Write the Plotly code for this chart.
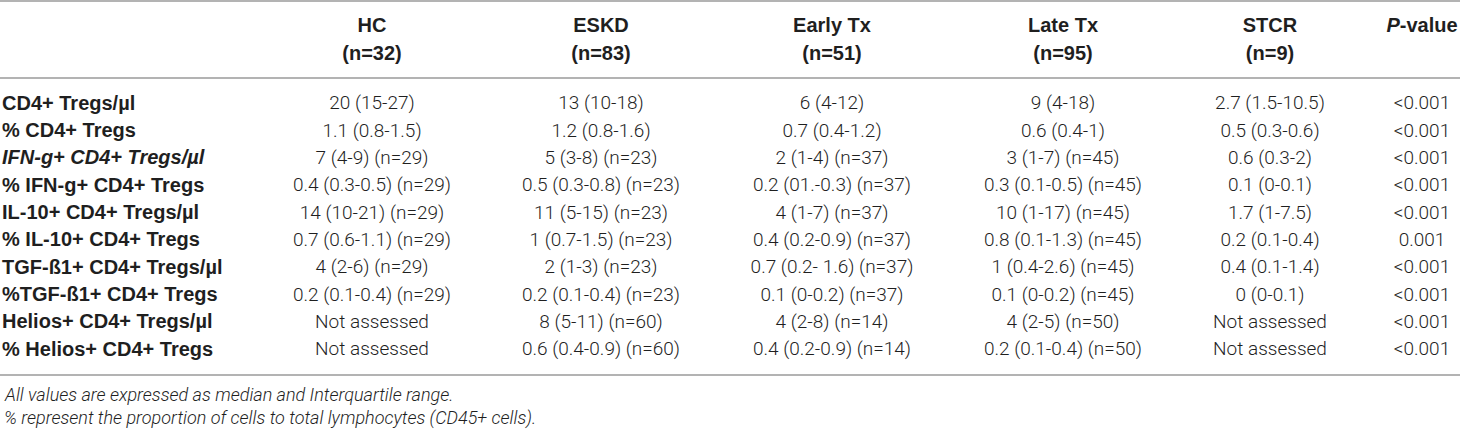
import plotly.graph_objects as go

W, H = 1460, 431

groups = ["HC", "ESKD", "Early Tx", "Late Tx", "STCR"]
group_n = ["(n=32)", "(n=83)", "(n=51)", "(n=95)", "(n=9)"]
p_header = "<i>P</i>-value"

labels = ["CD4+ Tregs/µl", "% CD4+ Tregs", "IFN-g+ CD4+ Tregs/µl", "% IFN-g+ CD4+ Tregs",
          "IL-10+ CD4+ Tregs/µl", "% IL-10+ CD4+ Tregs", "TGF-ß1+ CD4+ Tregs/µl",
          "%TGF-ß1+ CD4+ Tregs", "Helios+ CD4+ Tregs/µl", "% Helios+ CD4+ Tregs"]
italic_rows = [2]

hc = ["20 (15-27)", "1.1 (0.8-1.5)", "7 (4-9) (n=29)", "0.4 (0.3-0.5) (n=29)", "14 (10-21) (n=29)",
      "0.7 (0.6-1.1) (n=29)", "4 (2-6) (n=29)", "0.2 (0.1-0.4) (n=29)", "Not assessed", "Not assessed"]
eskd = ["13 (10-18)", "1.2 (0.8-1.6)", "5 (3-8) (n=23)", "0.5 (0.3-0.8) (n=23)", "11 (5-15) (n=23)",
        "1 (0.7-1.5) (n=23)", "2 (1-3) (n=23)", "0.2 (0.1-0.4) (n=23)", "8 (5-11) (n=60)", "0.6 (0.4-0.9) (n=60)"]
early = ["6 (4-12)", "0.7 (0.4-1.2)", "2 (1-4) (n=37)", "0.2 (01.-0.3) (n=37)", "4 (1-7) (n=37)",
         "0.4 (0.2-0.9) (n=37)", "0.7 (0.2- 1.6) (n=37)", "0.1 (0-0.2) (n=37)", "4 (2-8) (n=14)", "0.4 (0.2-0.9) (n=14)"]
late = ["9 (4-18)", "0.6 (0.4-1)", "3 (1-7) (n=45)", "0.3 (0.1-0.5) (n=45)", "10 (1-17) (n=45)",
        "0.8 (0.1-1.3) (n=45)", "1 (0.4-2.6) (n=45)", "0.1 (0-0.2) (n=45)", "4 (2-5) (n=50)", "0.2 (0.1-0.4) (n=50)"]
stcr = ["2.7 (1.5-10.5)", "0.5 (0.3-0.6)", "0.6 (0.3-2)", "0.1 (0-0.1)", "1.7 (1-7.5)",
        "0.2 (0.1-0.4)", "0.4 (0.1-1.4)", "0 (0-0.1)", "Not assessed", "Not assessed"]
pvals = ["<0.001", "<0.001", "<0.001", "<0.001", "<0.001", "0.001", "<0.001", "<0.001", "<0.001", "<0.001"]

footnotes = ["All values are expressed as median and Interquartile range.",
             "% represent the proportion of cells to total lymphocytes (CD45+ cells)."]

# ---- layout geometry (pixels) ----
col_centers = [372, 601, 832, 1063, 1270, 1422]   # HC, ESKD, Early, Late, STCR, P
label_x = 2
first_row_px = 104.5
row_pitch = 27.35
header_px = [27, 55]
rules_px = [1, 78, 375]
foot_px = [394, 418]
rule_color = "#9a9a9a"
text_color = "#1f1f1f"


def to_row(px):
    return (px - first_row_px) / row_pitch


def esc(s):
    return s.replace("<", "&lt;").replace(">", "&gt;")


rows = list(range(len(labels)))
fig = go.Figure()

label_txt = []
for i, lab in enumerate(labels):
    t = esc(lab)
    if i in italic_rows:
        t = "<i>" + t + "</i>"
    label_txt.append("<b>" + t + "</b>")

fig.add_trace(go.Scatter(x=[label_x] * len(rows), y=rows, mode="text", text=label_txt,
                         textposition="middle right", hoverinfo="skip", showlegend=False,
                         textfont=dict(family="Liberation Sans", size=20, color=text_color)))

for cx, col in zip(col_centers, (hc, eskd, early, late, stcr, pvals)):
    fig.add_trace(go.Scatter(x=[cx] * len(rows), y=rows, mode="text", text=[esc(v) for v in col],
                             textposition="middle center", hoverinfo="skip", showlegend=False,
                             textfont=dict(family="Roboto", size=19, color=text_color, weight=300)))

# header
fig.add_trace(go.Scatter(x=col_centers[:5], y=[to_row(header_px[0])] * 5, mode="text",
                         text=["<b>%s</b>" % g for g in groups], textposition="middle center",
                         hoverinfo="skip", showlegend=False,
                         textfont=dict(family="Liberation Sans", size=20, color=text_color)))
fig.add_trace(go.Scatter(x=col_centers[:5], y=[to_row(header_px[1])] * 5, mode="text",
                         text=["<b>%s</b>" % n for n in group_n], textposition="middle center",
                         hoverinfo="skip", showlegend=False,
                         textfont=dict(family="Liberation Sans", size=20, color=text_color)))
fig.add_trace(go.Scatter(x=[col_centers[5]], y=[to_row(header_px[0])], mode="text",
                         text=["<b>%s</b>" % p_header], textposition="middle center",
                         hoverinfo="skip", showlegend=False,
                         textfont=dict(family="Liberation Sans", size=20, color=text_color)))

for yp in rules_px:
    fig.add_shape(type="line", xref="paper", yref="y", x0=0, x1=1,
                  y0=to_row(yp), y1=to_row(yp), line=dict(color=rule_color, width=1.6))

for k, txt in enumerate(footnotes):
    fig.add_annotation(xref="x", yref="y", x=label_x, y=to_row(foot_px[k]),
                       xanchor="left", yanchor="middle", showarrow=False,
                       text="<i>" + esc(txt) + "</i>",
                       font=dict(family="Roboto", size=18, color=text_color, weight=300))

fig.update_xaxes(range=[0, W], visible=False, fixedrange=True)
fig.update_yaxes(range=[to_row(H), to_row(0)], visible=False, fixedrange=True)
fig.update_layout(width=W, height=H, margin=dict(l=0, r=0, t=0, b=0),
                  paper_bgcolor="white", plot_bgcolor="white")
fig.update_traces(cliponaxis=False)

fig.write_html("out.html", config={"displayModeBar": False},
               post_script="document.body.style.margin='0';document.body.style.overflow='hidden';")
